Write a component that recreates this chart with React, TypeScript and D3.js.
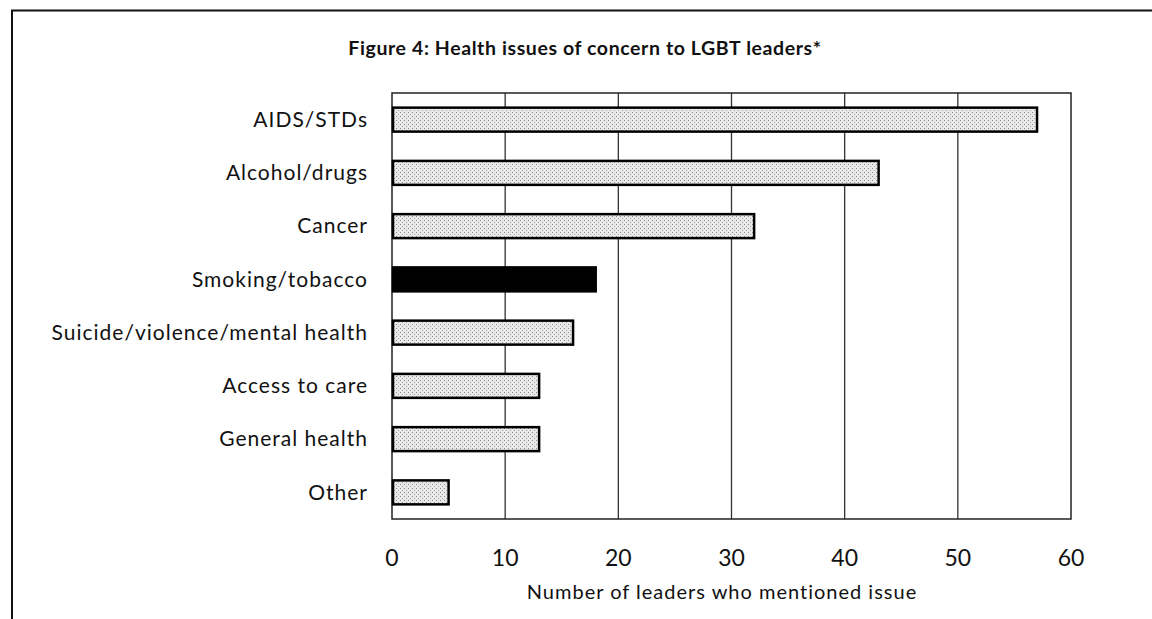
import * as d3 from "d3";

const categories = [
  "AIDS/STDs",
  "Alcohol/drugs",
  "Cancer",
  "Smoking/tobacco",
  "Suicide/violence/mental health",
  "Access to care",
  "General health",
  "Other",
];
const leaders = [57, 43, 32, 18, 16, 13, 13, 5];
const highlighted = ["Smoking/tobacco"];
const xTicks = [0, 10, 20, 30, 40, 50, 60];

const title = "Figure 4: Health issues of concern to LGBT leaders*";
const xTitle = "Number of leaders who mentioned issue";

const W = 1152;
const H = 619;
const FONT = "Lato, 'Open Sans', sans-serif";

export default function App() {
  const left = 392;
  const right = 1071;
  const top = 93;
  const bottom = 519;

  const x = d3.scaleLinear().domain([0, 60]).range([left, right]);
  const y = d3.scaleBand<string>().domain(categories).range([top, bottom]).paddingInner(0.55).paddingOuter(0.275);

  return (
    <div style={{ position: "absolute", left: 0, top: 0 }}>
      <svg width={W} height={H} style={{ display: "block", background: "#fff" }}>
        <defs>
          <pattern id="stipple" width="4" height="4" patternUnits="userSpaceOnUse">
            <rect width="4" height="4" fill="#e9e9e9" />
            <rect x="0" y="0" width="1" height="1" fill="#8a8a8a" />
            <rect x="2" y="2" width="1" height="1" fill="#a5a5a5" />
          </pattern>
        </defs>

        {/* outer frame */}
        <line x1={11} x2={W} y1={10.5} y2={10.5} stroke="#111" strokeWidth={2} />
        <line x1={12} x2={12} y1={10} y2={H} stroke="#111" strokeWidth={2} />

        <text
          x={585}
          y={55}
          textAnchor="middle"
          fontFamily={FONT}
          fontWeight="bold"
          fontSize={19.5}
          letterSpacing={0.6}
          fill="#111"
        >
          {title}
        </text>

        {/* gridlines */}
        {xTicks.slice(1, -1).map((t) => (
          <line key={t} x1={x(t)} x2={x(t)} y1={top} y2={bottom} stroke="#333" strokeWidth={1.3} />
        ))}

        {/* plot frame */}
        <rect x={left} y={top} width={right - left} height={bottom - top} fill="none" stroke="#222" strokeWidth={1.5} />

        {categories.map((c, i) => {
          const dark = highlighted.includes(c);
          return (
            <g key={c}>
              <rect
                x={x(0) + 1}
                y={y(c)!}
                width={x(leaders[i]) - x(0) - 1}
                height={y.bandwidth()}
                fill={dark ? "#000" : "url(#stipple)"}
                stroke="#000"
                strokeWidth={2.5}
              />
              <text
                x={368}
                y={y(c)! + y.bandwidth() / 2}
                dy="0.35em"
                textAnchor="end"
                fontFamily={FONT}
                fontSize={21}
                letterSpacing={1}
                fill="#111"
              >
                {c}
              </text>
            </g>
          );
        })}

        {xTicks.map((t) => (
          <text key={t} x={x(t)} y={566} textAnchor="middle" fontFamily={FONT} fontSize={23} fill="#111">
            {t}
          </text>
        ))}

        <text x={722} y={599} textAnchor="middle" fontFamily={FONT} fontSize={20} letterSpacing={1} fill="#111">
          {xTitle}
        </text>
      </svg>
    </div>
  );
}
